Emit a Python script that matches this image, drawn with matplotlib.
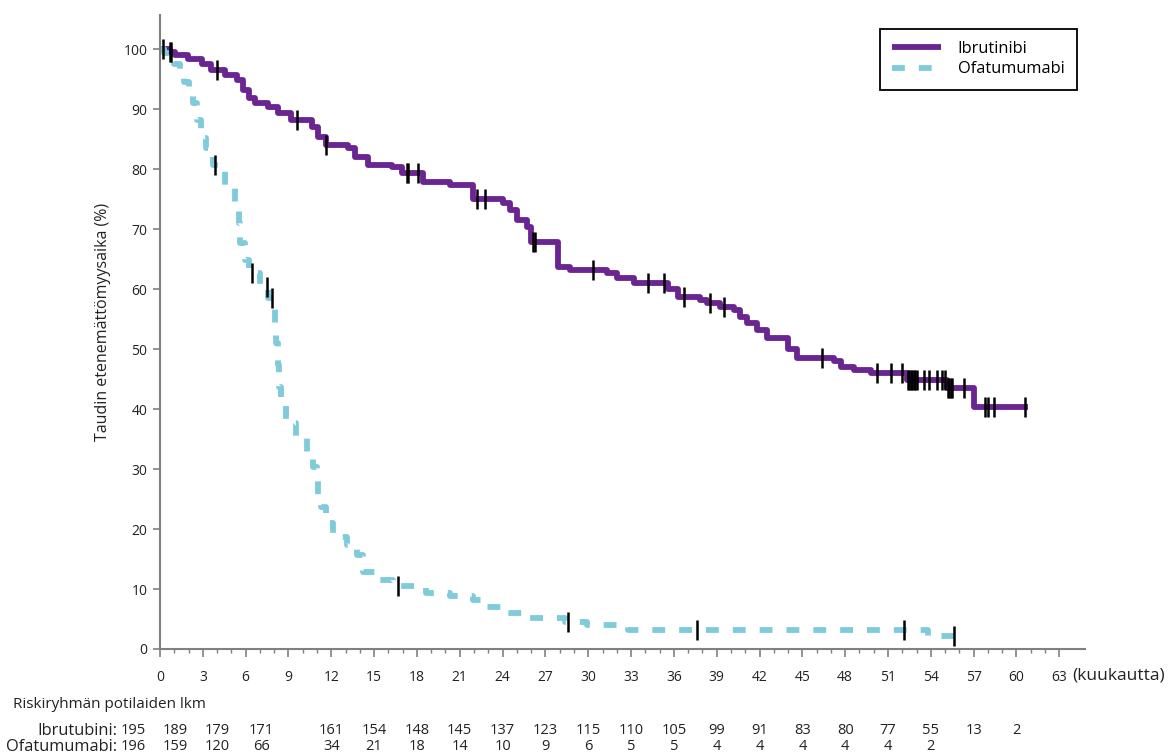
import numpy as np
import matplotlib
matplotlib.use("Agg")
import matplotlib.pyplot as plt
from matplotlib.transforms import blended_transform_factory

plt.rcParams['font.family'] = ['Open Sans', 'DejaVu Sans']

# Ibrutinibi: step times (months) and PFS (%)
ibr_t = [0, 0.7, 1.05, 1.96, 2.94, 3.6, 4.55, 5.4, 5.8, 6.2, 6.66, 7.57, 8.27, 9.2,
         10.65, 11.07, 11.6, 13.17, 13.67, 14.58, 16.26, 16.96, 18.4, 20.3, 21.9,
         24.0, 24.5, 25.0, 25.7, 26.0, 27.9, 28.7, 31.3, 32.0, 33.2, 35.6, 36.3,
         37.8, 38.3, 39.2, 40.2, 40.6, 41.1, 41.8, 42.5, 44.0, 44.6, 47.2, 47.7,
         48.6, 49.8, 52.3, 55.1, 57.0, 60.8]
ibr_s = [100, 99.5, 99.0, 98.4, 97.5, 96.6, 95.7, 94.8, 93.2, 91.8, 91.0, 90.3, 89.3,
         88.2, 87.0, 85.3, 84.0, 83.5, 82.0, 80.7, 80.3, 79.4, 77.8, 77.3, 75.0,
         74.3, 73.2, 71.5, 70.3, 67.8, 63.7, 63.2, 62.7, 61.8, 61.0, 60.0, 58.7,
         58.2, 57.7, 57.0, 56.5, 55.3, 54.3, 53.2, 51.8, 50.0, 48.5, 48.0, 47.0,
         46.5, 46.0, 44.8, 43.5, 40.3, 40.3]
ibr_cens = [0.2, 0.7, 0.8, 4.0, 9.6, 11.6, 17.3, 17.4, 18.1, 22.2, 22.8, 26.1, 26.3,
            30.3, 34.2, 35.3, 36.7, 38.5, 39.5, 46.4, 50.2, 51.2, 52.0, 52.4, 52.5,
            52.6, 52.7, 52.8, 52.9, 53.0, 53.5, 53.9, 54.4, 54.8, 55.0, 55.2, 55.3,
            55.4, 55.5, 56.3, 57.8, 58.0, 58.4, 60.6]

# Ofatumumabi
ofa_t = [0, 0.3, 0.6, 1.0, 1.4, 1.7, 2.0, 2.3, 2.6, 2.9, 3.2, 3.4, 3.7, 4.55, 5.25,
         5.5, 5.6, 5.95, 6.2, 7.0, 7.6, 7.9, 8.05, 8.15, 8.25, 8.35, 8.5, 8.8, 9.5,
         10.3, 10.7, 11.0, 11.1, 11.3, 11.6, 12.1, 13.1, 13.8, 14.2, 15.2, 16.3,
         18.6, 20.3, 21.9, 22.8, 24.2, 25.4, 28.4, 29.9, 32.8, 53.8, 55.6]
ofa_s = [100, 99.3, 98.5, 97.5, 96.0, 94.5, 93.2, 91.0, 88.2, 85.2, 83.5, 82.0, 80.7,
         77.0, 74.3, 71.0, 67.7, 64.8, 62.7, 60.3, 58.5, 57.7, 54.3, 51.0, 47.3,
         43.7, 40.7, 37.7, 35.2, 32.8, 30.3, 28.0, 25.0, 23.7, 21.0, 18.7, 17.3,
         15.7, 12.8, 11.5, 10.5, 9.3, 8.8, 8.2, 7.0, 6.0, 5.2, 4.5, 4.0, 3.2, 2.2, 2.2]
ofa_cens = [3.85, 6.45, 7.5, 7.85, 16.7, 28.6, 37.6, 52.1, 55.6]

# number at risk (the first four columns sit left of their ticks in the source)
risk_times = list(range(0, 61, 3))
risk_shift = [-1.9, -1.9, -2.0, -1.9] + [0] * 17
ibr_risk = [195, 189, 179, 171, 161, 154, 148, 145, 137, 123, 115, 110, 105, 99, 91,
            83, 80, 77, 55, 13, 2]
ofa_risk = [196, 159, 120, 66, 34, 21, 18, 14, 10, 9, 6, 5, 5, 4, 4, 4, 4, 4, 2]

purple = '#6b2590'
blue = '#7fcbdc'
gray = '#808080'
txt = '#222222'


def step_value(t, times, surv):
    i = np.searchsorted(times, t, side='right') - 1
    return np.asarray(surv)[i]


fig = plt.figure(figsize=(11.75, 7.56), dpi=100)
ax = fig.add_axes([160 / 1175, 1 - 649 / 756, 925 / 1175, 634 / 756])

ax.plot(ibr_t, ibr_s, drawstyle='steps-post', color=purple, lw=4.2, label='Ibrutinibi',
        solid_capstyle='butt')
ax.plot(ofa_t, ofa_s, drawstyle='steps-post', color=blue, lw=4.2, dashes=(2.2, 2.4),
        label='Ofatumumabi')

ax.plot(ibr_cens, step_value(ibr_cens, ibr_t, ibr_s), ls='none', marker='|',
        ms=15, mew=1.8, color='black')
ax.plot(ofa_cens, step_value(ofa_cens, ofa_t, ofa_s), ls='none', marker='|',
        ms=15, mew=1.8, color='black')

ax.set_xlim(0, 64.8)
ax.set_ylim(0, 105.7)
ax.set_xticks(range(0, 64, 3))
ax.set_xticks(range(0, 64), minor=True)
ax.set_yticks(range(0, 101, 10))
for s in ['top', 'right']:
    ax.spines[s].set_visible(False)
for s in ['left', 'bottom']:
    ax.spines[s].set_color(gray)
    ax.spines[s].set_linewidth(1.5)
ax.tick_params(axis='both', which='major', colors=gray, labelcolor=txt,
               labelsize=10, width=1.2)
ax.tick_params(axis='x', which='major', length=6, pad=9)
ax.tick_params(axis='x', which='minor', length=3, width=1, colors=gray)
ax.tick_params(axis='y', which='major', length=5, pad=4)

ax.set_ylabel('Taudin etenemättömyysaika (%)', fontsize=11.5, color=txt)
ax.yaxis.set_label_coords(-0.053, 0.516)

ax.text(1072 / 1175, 1 - 676 / 756, '(kuukautta)', transform=fig.transFigure,
        fontsize=12.5, ha='left', va='center', color=txt)

leg = ax.legend(loc='upper right', bbox_to_anchor=(1.0, 0.991), fancybox=False,
                edgecolor='black', framealpha=1, fontsize=11.8, handlelength=3.0,
                handletextpad=1.0, borderpad=0.75, labelspacing=0.25)
leg.get_frame().set_linewidth(1.3)

fig.text(13 / 1175, 1 - 705 / 756, 'Riskiryhmän potilaiden lkm', fontsize=11,
         ha='left', va='center', color=txt)
fig.text(117 / 1175, 1 - 731 / 756, 'Ibrutubini:', fontsize=11.8, ha='right',
         va='center', color=txt)
fig.text(117 / 1175, 1 - 747 / 756, 'Ofatumumabi:', fontsize=11.8, ha='right',
         va='center', color=txt)
tr = blended_transform_factory(ax.transData, fig.transFigure)
for t, dx, n in zip(risk_times, risk_shift, ibr_risk):
    ax.text(t + dx, 1 - 731 / 756, str(n), transform=tr, fontsize=10.5, ha='center',
            va='center', color=txt)
for t, dx, n in zip(risk_times, risk_shift, ofa_risk):
    ax.text(t + dx, 1 - 747 / 756, str(n), transform=tr, fontsize=10.5, ha='center',
            va='center', color=txt)

fig.savefig('out.png', dpi=100)
